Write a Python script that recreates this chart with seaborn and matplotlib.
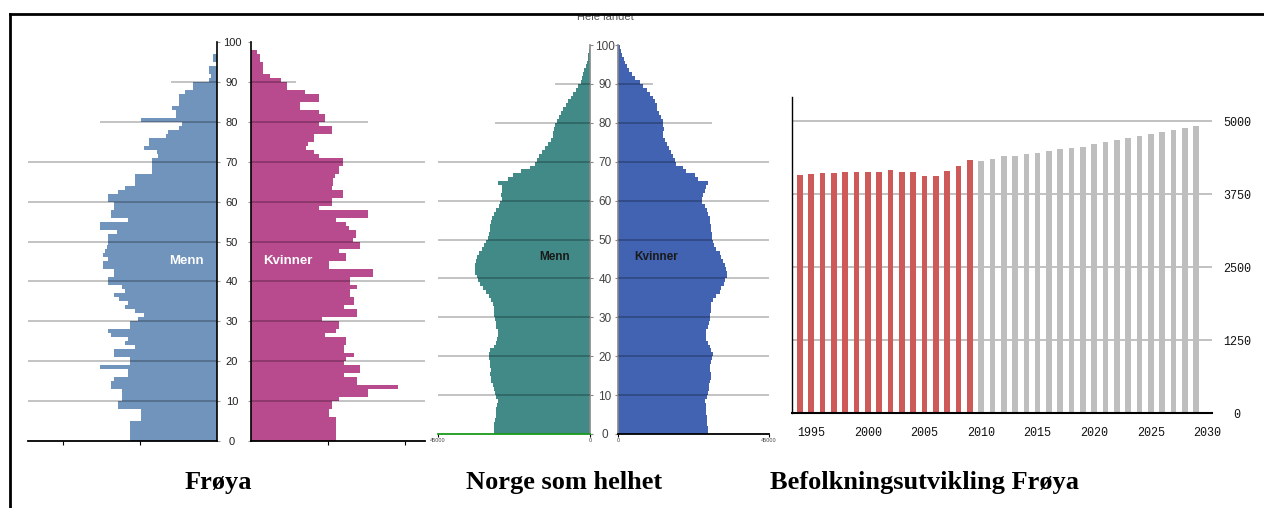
import numpy as np
import pandas as pd
import matplotlib
matplotlib.use("Agg")
import matplotlib.pyplot as plt
from matplotlib.lines import Line2D
import seaborn as sns

# ---------------- data ----------------
ages = list(range(0, 100))

froya_menn = [22.5, 22.5, 22.5, 22.5, 22.5, 19.7, 19.7, 19.7, 25.8, 25.6,
              24.8, 24.8, 24.8, 27.5, 27.5, 26.7, 23.2, 23.2, 30.3, 22.5,
              22.5, 26.7, 26.7, 21.3, 24.0, 23.2, 27.5, 28.2, 22.5, 22.5,
              20.4, 18.9, 21.3, 24.0, 23.2, 25.5, 26.7, 24.0, 24.8, 28.2,
              28.2, 26.8, 26.8, 29.5, 29.5, 28.4, 29.5, 29.1, 28.7, 28.4,
              28.4, 28.4, 26.0, 30.3, 30.3, 23.2, 27.5, 27.5, 26.7, 26.7,
              28.2, 28.2, 25.8, 23.9, 21.2, 21.2, 21.2, 17.0, 17.0, 17.0,
              17.0, 15.2, 15.7, 18.9, 17.6, 17.6, 13.3, 12.6, 10.0, 9.2,
              19.7, 10.6, 10.6, 11.8, 9.9, 9.9, 9.9, 8.2, 6.2, 6.2,
              2.0, 1.5, 2.0, 2.2, 0.0, 1.1, 1.1, 0.0, 0.0, 0.0]

froya_kvinner = [22.0, 22.0, 22.0, 22.0, 22.0, 22.0, 20.3, 20.3, 21.1, 21.1,
                 22.9, 30.3, 30.3, 38.3, 27.6, 27.6, 24.2, 28.3, 28.3, 24.2,
                 24.8, 26.8, 24.2, 24.2, 24.8, 24.8, 19.2, 22.0, 22.9, 22.9,
                 18.5, 27.6, 27.6, 24.2, 26.8, 26.8, 25.7, 25.7, 27.6, 25.7,
                 25.7, 31.8, 31.8, 20.3, 20.3, 24.8, 24.8, 22.9, 28.3, 28.3,
                 26.6, 27.4, 27.4, 25.5, 24.8, 22.0, 30.3, 30.3, 17.7, 21.1,
                 21.1, 24.0, 24.0, 21.1, 21.4, 21.4, 21.8, 22.9, 22.9, 24.0,
                 24.0, 17.7, 16.4, 14.3, 14.9, 16.4, 16.4, 21.1, 21.1, 17.7,
                 19.2, 19.2, 17.7, 12.7, 12.7, 17.7, 17.7, 14.0, 9.4, 9.4,
                 7.7, 4.9, 3.0, 3.0, 3.0, 2.3, 2.3, 1.5, 0.0, 0.0]

norge_menn = [28.5, 28.5, 28.5, 28.2, 27.9, 27.7, 27.7, 27.4, 27.2, 27.7,
              28.2, 28.5, 28.7, 29.2, 29.4, 29.5, 29.4, 29.5, 29.7, 29.9,
              30.0, 29.5, 28.5, 27.7, 27.5, 27.2, 27.2, 27.7, 27.9, 28.2,
              28.5, 28.5, 28.5, 28.7, 29.2, 29.9, 30.7, 31.6, 32.6, 33.1,
              33.6, 34.1, 34.1, 34.1, 33.8, 33.6, 32.8, 32.1, 31.4, 30.7,
              30.2, 30.0, 29.7, 29.5, 29.2, 28.9, 28.5, 27.7, 27.0, 26.7,
              26.2, 26.4, 26.2, 26.2, 27.2, 24.2, 22.9, 20.3, 17.8, 16.3,
              15.8, 15.0, 14.3, 13.4, 12.4, 11.4, 11.1, 10.9, 10.7, 10.4,
              9.9, 9.1, 8.6, 7.9, 7.1, 6.4, 5.7, 4.9, 4.2, 3.5,
              2.7, 2.3, 2.0, 1.7, 1.3, 1.0, 0.7, 0.5, 0.3, 0.1]

norge_kvinner = [26.8, 26.8, 26.6, 26.5, 26.5, 26.3, 26.3, 26.1, 25.8, 26.5,
                 26.8, 27.1, 27.1, 27.3, 27.8, 27.8, 27.5, 27.5, 27.8, 28.1,
                 28.3, 27.8, 27.3, 26.8, 26.3, 26.1, 26.3, 26.8, 27.1, 27.3,
                 27.5, 27.8, 27.8, 27.8, 28.3, 29.3, 30.3, 30.8, 31.5, 32.0,
                 32.4, 32.4, 32.2, 31.8, 31.3, 30.8, 30.3, 29.3, 28.5, 28.3,
                 28.1, 28.1, 27.8, 27.8, 27.5, 27.3, 26.8, 26.5, 25.8, 25.1,
                 25.1, 25.3, 25.8, 26.3, 26.8, 23.8, 22.8, 20.4, 19.4, 17.4,
                 16.9, 16.4, 15.9, 15.2, 14.6, 13.9, 13.5, 13.5, 13.7, 13.5,
                 13.3, 12.7, 12.3, 11.7, 11.5, 11.0, 10.3, 9.5, 8.5, 7.5,
                 6.5, 5.0, 4.1, 3.3, 2.6, 2.2, 1.8, 1.3, 0.9, 0.5]

grid_ages = [10, 20, 30, 40, 50, 60, 70, 80, 90]
froya_grid_menn = [49.1, 49.1, 49.1, 49.1, 49.1, 49.1, 49.1, 30.4, 12.0]
froya_grid_kvinner = [45.2, 45.2, 45.2, 45.2, 45.2, 45.2, 45.2, 30.4, 11.7]
norge_grid = [45, 45, 45, 45, 45, 45, 45, 28, 10.5]

years = list(range(1994, 2030))
befolkning = [4074, 4092, 4109, 4109, 4132, 4132, 4132, 4132, 4172, 4132,
              4132, 4069, 4069, 4155, 4235, 4338,
              4321, 4361, 4400, 4400, 4441, 4463, 4486, 4526, 4549, 4566,
              4612, 4652, 4675, 4715, 4755, 4777, 4818, 4858, 4881, 4921]
kind = ["reg"] * 16 + ["frem"] * 20

age_ticks = [0, 10, 20, 30, 40, 50, 60, 70, 80, 90, 100]
year_ticks = [1995, 2000, 2005, 2010, 2015, 2020, 2025, 2030]
pop_ticks = [0, 1250, 2500, 3750, 5000]

# ---------------- style ----------------
sns.set_style("white")
plt.rcParams["font.family"] = ["Liberation Sans", "DejaVu Sans"]

W, H = 1264, 508
fig = plt.figure(figsize=(W / 100, H / 100), dpi=100)


def rect(x0, y0, x1, y1):
    return [x0 / W, 1 - y1 / H, (x1 - x0) / W, (y1 - y0) / H]


def fx(x):
    return x / W


def fy(y):
    return 1 - y / H


def draw_bars(ax, vals, color):
    d = pd.DataFrame({"alder": np.array(ages, dtype=float),
                      "antall": np.array(vals, dtype=float)})
    try:
        sns.histplot(data=d, y="alder", weights="antall", binwidth=1,
                     binrange=(0, 100), element="step", fill=True,
                     color=color, alpha=1, linewidth=0, ax=ax)
    except Exception:
        ax.cla()
        d["midt"] = d["alder"] + 0.5
        sns.barplot(data=d, x="antall", y="midt", orient="y",
                    native_scale=True, width=1.0, color=color, saturation=1,
                    linewidth=0, ax=ax)


def pyramid_side(ax, vals, color, xmax, left, grid_ext, spine_col, base_col,
                 xticks, xticklabels, label_color, label_size, tick_col):
    draw_bars(ax, vals, color)
    ax.set_ylim(0, 100)
    if left:
        ax.set_xlim(xmax, 0)
    else:
        ax.set_xlim(0, xmax)
    ax.set_xlabel("")
    ax.set_ylabel("")
    ax.hlines(grid_ages, 0, grid_ext, color="k", alpha=0.3, lw=1.1, zorder=3)
    for s in ["top", "left", "right", "bottom"]:
        ax.spines[s].set_visible(False)
    side = "right" if left else "left"
    ax.spines[side].set_visible(True)
    ax.spines[side].set_color(spine_col)
    ax.spines[side].set_linewidth(1.2)
    ax.spines["bottom"].set_visible(True)
    ax.spines["bottom"].set_color(base_col)
    ax.spines["bottom"].set_linewidth(1.3)
    ax.set_xticks(xticks)
    ax.set_xticklabels(xticklabels)
    ax.tick_params(axis="x", bottom=True, length=3, width=0.8, color="k",
                   labelsize=4, labelcolor="#444", pad=1)
    ax.set_yticks(age_ticks)
    if left:
        ax.yaxis.tick_right()
        ax.tick_params(axis="y", right=True, left=False, length=2.2,
                       width=0.8, color=tick_col, labelsize=label_size,
                       labelcolor=label_color, pad=8.5)
        ax.set_yticklabels([str(a) for a in age_ticks])
        for t in ax.get_yticklabels():
            t.set_horizontalalignment("center")
    else:
        ax.tick_params(axis="y", left=True, length=2.2, width=0.8,
                       color=tick_col, labelleft=False)
    ax.set_facecolor("none")


# Frøya pyramid
ax1 = fig.add_axes(rect(28, 42, 217, 441))
pyramid_side(ax1, froya_menn, "#7094bb", 49.1, True, froya_grid_menn, "k", "k",
             [40, 20], ["", ""], "#222222", 8, "#999999")
ax2 = fig.add_axes(rect(251, 42, 425, 441))
pyramid_side(ax2, froya_kvinner, "#b84b8e", 45.2, False, froya_grid_kvinner,
             "k", "k", [20, 40], ["", ""], "#222222", 8, "#999999")

# Norge pyramid
ax3 = fig.add_axes(rect(438, 45, 590, 434))
pyramid_side(ax3, norge_menn, "#418a88", 45, True, norge_grid, "#888888",
             "#1a9a1a", [45, 0], ["45000", "0"], "#444444", 8.5, "#888888")
ax4 = fig.add_axes(rect(618, 45, 769, 434))
pyramid_side(ax4, norge_kvinner, "#4163b1", 45, False, norge_grid, "#888888",
             "k", [0, 45], ["0", "45000"], "#444444", 8.5, "#888888")
for a in (ax3, ax4):
    a.tick_params(axis="x", length=2)

# Bar chart
df = pd.DataFrame({"year": years, "pop": befolkning, "kind": kind})
ax5 = fig.add_axes(rect(792, 97, 1212, 413))
sns.barplot(data=df, x="year", y="pop", hue="kind",
            palette={"reg": "#cd5959", "frem": "#bebebe"},
            native_scale=True, width=0.5, dodge=False, legend=False,
            saturation=1, linewidth=0, ax=ax5)
ax5.set_xlim(1993.3, 2030.4)
ax5.set_ylim(0, 5420)
ax5.set_xlabel("")
ax5.set_ylabel("")
ax5.set_axisbelow(True)
ax5.yaxis.tick_right()
ax5.set_yticks(pop_ticks)
ax5.set_yticklabels([str(v) for v in pop_ticks])
ax5.set_xticks(year_ticks)
ax5.set_xticklabels([str(v) for v in year_ticks])
ax5.grid(axis="y", color="#b0b0b0", lw=1.1)
ax5.grid(axis="x", visible=False)
for s in ["top", "right"]:
    ax5.spines[s].set_visible(False)
ax5.spines["left"].set_color("k")
ax5.spines["left"].set_linewidth(1.0)
ax5.spines["bottom"].set_color("k")
ax5.spines["bottom"].set_linewidth(1.5)
ax5.tick_params(axis="both", length=0, labelsize=8.5, labelcolor="#111")
ax5.tick_params(axis="y", pad=18)
ax5.tick_params(axis="x", pad=10)
for t in ax5.get_yticklabels() + ax5.get_xticklabels():
    t.set_fontfamily(["Liberation Mono", "DejaVu Sans Mono"])
for t in ax5.get_yticklabels():
    t.set_horizontalalignment("center")

# In-chart labels
fig.text(fx(186.5), fy(261), "Menn", color="white", fontsize=9.5,
         fontweight="bold", ha="center", va="center")
fig.text(fx(288), fy(261), "Kvinner", color="white", fontsize=9.5,
         fontweight="bold", ha="center", va="center")
fig.text(fx(555), fy(257), "Menn", color="#1a1a1a", fontsize=8.5,
         fontweight="bold", ha="center", va="center")
fig.text(fx(656), fy(257), "Kvinner", color="#1a1a1a", fontsize=8.5,
         fontweight="bold", ha="center", va="center")
fig.text(fx(605), fy(19.5), "Hele landet", color="#555555", fontsize=8,
         ha="center", va="baseline", zorder=1)

# Captions
for x, s in [(218, "Frøya"), (564.5, "Norge som helhet"),
             (925, "Befolkningsutvikling Frøya")]:
    fig.text(fx(x), fy(489), s, fontsize=19, fontweight="bold",
             family=["Liberation Serif", "DejaVu Serif"], ha="center",
             va="baseline", color="k")

# White mask above the frame, then frame lines (drawn on top)
fig.add_artist(plt.Rectangle((0, fy(14)), 1, 1 - fy(14), facecolor="white",
                             edgecolor="none", transform=fig.transFigure,
                             zorder=9))
fig.add_artist(Line2D([fx(10), 1.0], [fy(14), fy(14)], color="k", lw=2,
                      transform=fig.transFigure, solid_capstyle="projecting",
                      zorder=10))
fig.add_artist(Line2D([fx(10), fx(10)], [fy(14), 0.0], color="k", lw=2,
                      transform=fig.transFigure, solid_capstyle="projecting",
                      zorder=10))

fig.savefig("out.png", dpi=100, facecolor="white")
